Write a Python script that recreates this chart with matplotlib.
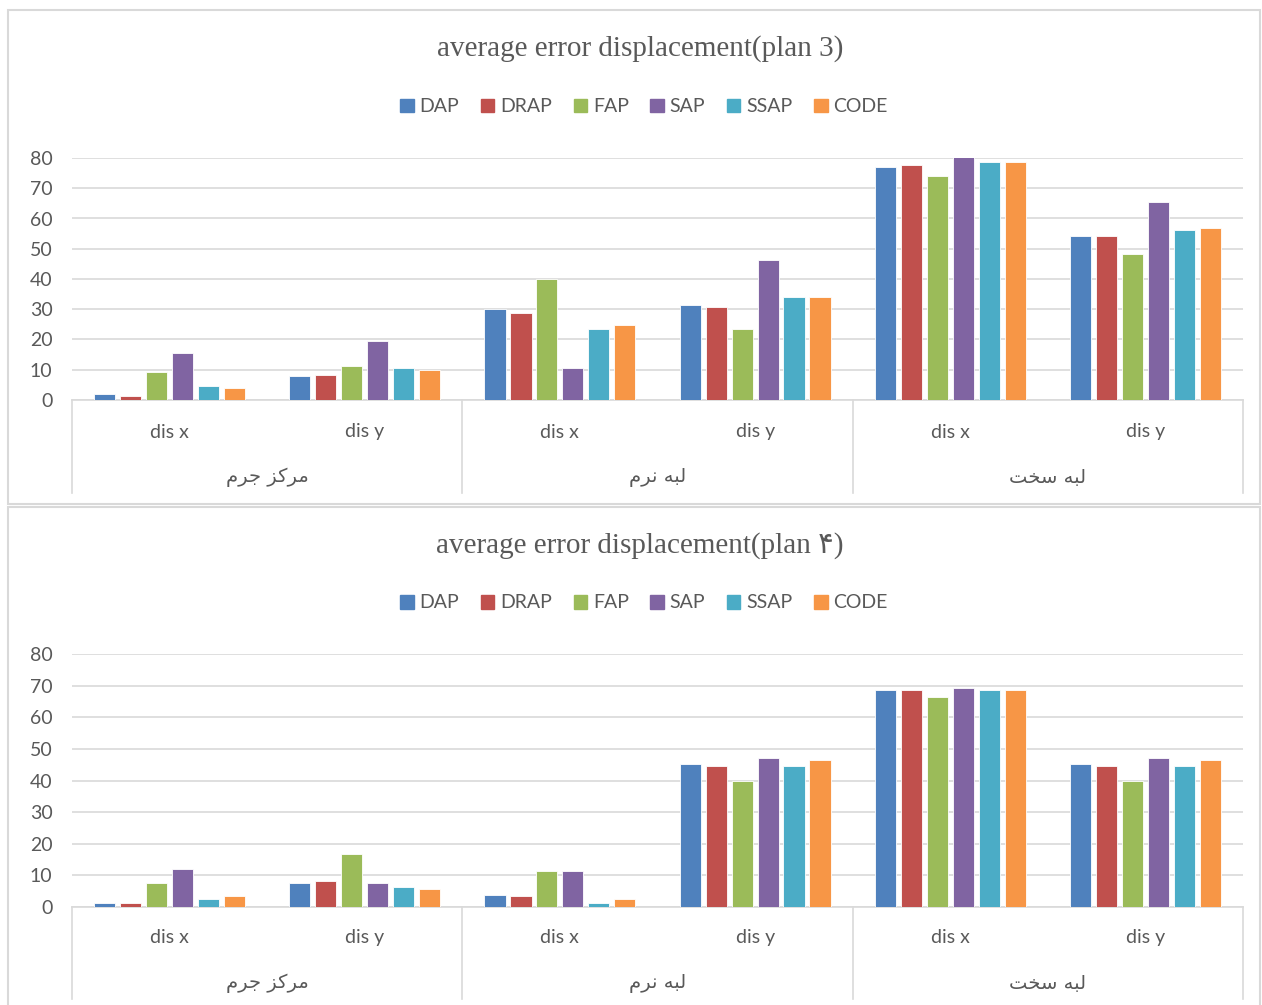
import numpy as np
import matplotlib.pyplot as plt
from matplotlib.patches import Rectangle
from matplotlib.lines import Line2D

# series and categories
series = ['DAP', 'DRAP', 'FAP', 'SAP', 'SSAP', 'CODE']
colors = ['#4F81BD', '#C0504D', '#9BBB59', '#8064A2', '#4BACC6', '#F79646']
sub_labels = ['dis x', 'dis y', 'dis x', 'dis y', 'dis x', 'dis y']
# Persian group labels (presentation forms, visual order): مرکز جرم / لبه نرم / لبه سخت
group_labels = ['\uFEE1\uFEAE\uFE9F \uFEB0\uFB90\uFEAE\uFEE3',
                '\uFEE1\uFEAE\uFEE7 \uFEEA\uFE92\uFEDF',
                '\uFE96\uFEA8\uFEB3 \uFEEA\uFE92\uFEDF']
yticks = [0, 10, 20, 30, 40, 50, 60, 70, 80]

# plan 3 values (one list per series, 6 categories)
p3_dap = [2.0, 8.0, 30.1, 31.5, 76.9, 54.2]
p3_drap = [1.3, 8.3, 28.8, 30.9, 77.7, 54.1]
p3_fap = [9.2, 11.3, 40.0, 23.5, 74.1, 48.2]
p3_sap = [15.5, 19.5, 10.7, 46.2, 80.3, 65.6]
p3_ssap = [4.5, 10.5, 23.6, 34.0, 78.8, 56.2]
p3_code = [4.0, 10.0, 24.9, 34.2, 78.8, 56.8]

# plan 4 values
p4_dap = [1.3, 7.5, 3.9, 45.1, 68.6, 45.1]
p4_drap = [1.3, 8.1, 3.5, 44.5, 68.6, 44.5]
p4_fap = [7.5, 16.9, 11.5, 40.0, 66.3, 40.0]
p4_sap = [12.0, 7.6, 11.3, 47.1, 69.1, 47.1]
p4_ssap = [2.6, 6.3, 1.3, 44.5, 68.5, 44.5]
p4_code = [3.4, 5.6, 2.6, 46.5, 68.7, 46.5]

W, H = 1262, 1005
fig = plt.figure(figsize=(W / 100, H / 100), dpi=100)


def fx(px):
    return px / W


def fy(py):
    return 1 - py / H


txt = '#595959'
grid_c = '#D9D9D9'
x_left, x_right = 72, 1243

charts = [
    # title, values, y of 80, y of 0, title y, legend y, sub y, group y, box
    ('average error displacement(plan 3)',
     [p3_dap, p3_drap, p3_fap, p3_sap, p3_ssap, p3_code],
     158, 400, 49, 107, 432, 477, (8, 10, 1260, 504)),
    ('average error displacement(plan \u06F4)',
     [p4_dap, p4_drap, p4_fap, p4_sap, p4_ssap, p4_code],
     654, 907, 546, 603, 937, 983, (8, 507, 1260, 1012)),
]

width = 0.108
step = 0.133
xc = np.arange(len(sub_labels))

for title, vals, y80, y0, ty, ly, sy, gy, box in charts:
    # chart border
    bx0, by0, bx1, by1 = box
    fig.patches.append(Rectangle((fx(bx0), fy(by1)), fx(bx1 - bx0), (by1 - by0) / H,
                                 transform=fig.transFigure, fill=False,
                                 edgecolor='#D9D9D9', linewidth=1.5))

    ax = fig.add_axes([fx(x_left), fy(y0), fx(x_right - x_left), (y0 - y80) / H])
    for j, name in enumerate(series):
        ax.bar(xc + (j - 2.5) * step, vals[j], width, color=colors[j],
               edgecolor='white', linewidth=0.6, zorder=3, label=name)
    ax.set_xlim(-0.5, len(sub_labels) - 0.5)
    ax.set_ylim(0, 80)
    ax.set_yticks(yticks)
    ax.set_yticklabels([str(t) for t in yticks], fontfamily='Lato', fontsize=14, color=txt)
    ax.tick_params(axis='y', length=0, pad=14)
    ax.set_xticks([])
    ax.grid(axis='y', color=grid_c, linewidth=1.2, zorder=0)
    for s in ['top', 'right', 'left']:
        ax.spines[s].set_visible(False)
    ax.spines['bottom'].set_color(grid_c)
    ax.spines['bottom'].set_linewidth(1.2)

    # multi-level category axis
    for i, lab in enumerate(sub_labels):
        fig.text(fx(x_left + (i + 0.5) * (x_right - x_left) / 6), fy(sy), lab,
                 ha='center', va='center', fontfamily='Lato', fontsize=14, color=txt)
    for g, lab in enumerate(group_labels):
        fig.text(fx(x_left + (g + 0.5) * (x_right - x_left) / 3), fy(gy), lab,
                 ha='center', va='center', fontfamily='DejaVu Sans', fontsize=14, color=txt)
    for g in range(4):
        xp = x_left + g * (x_right - x_left) / 3
        fig.lines.append(Line2D([fx(xp), fx(xp)], [fy(y0), fy(gy + 16)],
                                transform=fig.transFigure, color=grid_c, linewidth=1.2))

    fig.text(fx(640), fy(ty), title, ha='center', va='center',
             fontfamily=['Liberation Serif', 'DejaVu Sans'], fontsize=21, color=txt)

    handles = [Rectangle((0, 0), 1, 1, color=c) for c in colors]
    fig.legend(handles, series, loc='center', bbox_to_anchor=(fx(644), fy(ly)),
               ncol=6, frameon=False, handlelength=0.7, handleheight=0.7,
               handletextpad=0.3, columnspacing=1.1,
               prop={'family': 'Lato', 'size': 14}, labelcolor=txt)

fig.savefig('out.png', dpi=100, facecolor='white')
